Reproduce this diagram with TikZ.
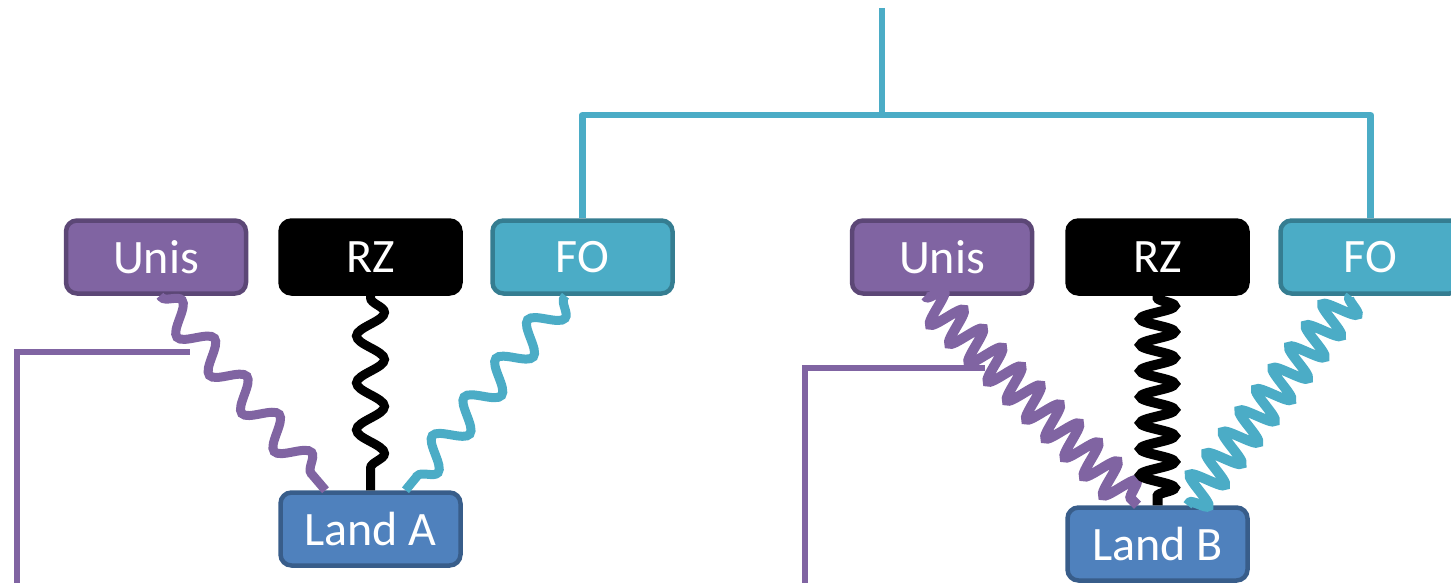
\documentclass[tikz,border=0pt]{standalone}
\usepackage{fontspec}
\setmainfont{Carlito}
\usetikzlibrary{decorations.pathmorphing}

\definecolor{unisfill}{HTML}{8064A2}
\definecolor{unisline}{HTML}{5C4776}
\definecolor{fofill}{HTML}{4BACC6}
\definecolor{foline}{HTML}{357D91}
\definecolor{landfill}{HTML}{4F81BD}
\definecolor{landline}{HTML}{385D8A}

\begin{document}
\begin{tikzpicture}[x=1pt,y=-1pt,
  box/.style={rounded corners=11pt, line width=4.5pt, minimum width=180pt,
    minimum height=73pt, inner sep=0pt, text=white,
    font=\fontsize{48}{52}\selectfont},
  unisbox/.style={box, fill=unisfill, draw=unisline},
  rzbox/.style={box, fill=black, draw=black},
  fobox/.style={box, fill=fofill, draw=foline},
  landbox/.style={box, fill=landfill, draw=landline},
  tree/.style={draw=fofill, line width=6.5pt},
  unisline/.style={draw=unisfill, line width=5.5pt},
  softwave/.style={line width=9pt, decorate,
    decoration={snake, segment length=50pt, amplitude=14pt,
      pre length=2pt, post length=2pt}},
  tightwave/.style={line width=10pt, decorate,
    decoration={snake, segment length=27pt, amplitude=17pt,
      pre length=2pt, post length=2pt}}]

\useasboundingbox (0,0) rectangle (1451,583);

% purple elbows on the left of each group
\coordinate (ua1) at (17,583);
\coordinate (ua2) at (190,352);
\coordinate (ub1) at (805,583);
\coordinate (ub2) at (985,368);
\draw[unisline] (ua1) |- (ua2);
\draw[unisline] (ub1) |- (ub2);

% group A
\node[unisbox] (unisA) at (156,257) {Unis};
\node[rzbox]   (rzA)   at (370.5,257) {RZ};
\node[fobox]   (foA)   at (582.5,257) {FO};
\node[landbox] (landA) at (370.5,529) {Land A};

% group B
\node[unisbox] (unisB) at (942,257) {Unis};
\node[rzbox]   (rzB)   at (1157.5,257) {RZ};
\node[fobox]   (foB)   at (1370.5,257) {FO};
\node[landbox] (landB) at (1157.5,544) {Land B};

% tree above the FO boxes
\coordinate (top) at (882,8);
\coordinate (fork) at (882,115);
\draw[tree] (top) -- (fork);
\draw[tree, line join=round] (foA.north) |- (fork) -| (foB.north);

% springs into Land A
\draw[softwave, unisfill] ([xshift=4pt]unisA.south) -- ([xshift=-45pt]landA.north);
\draw[softwave, black, decoration={segment length=47pt}] (rzA.south) -- (landA.north);
\draw[softwave, fofill] ([xshift=-17pt]foA.south) -- ([xshift=35pt]landA.north);

% springs into Land B
\draw[tightwave, unisfill] ([xshift=-17pt]unisB.south) -- ([xshift=-20pt]landB.north);
\draw[tightwave, black, decoration={segment length=26pt}] (rzB.south) -- (landB.north);
\draw[tightwave, fofill] ([xshift=-20pt]foB.south) -- ([xshift=30pt]landB.north);
\end{tikzpicture}
\end{document}
